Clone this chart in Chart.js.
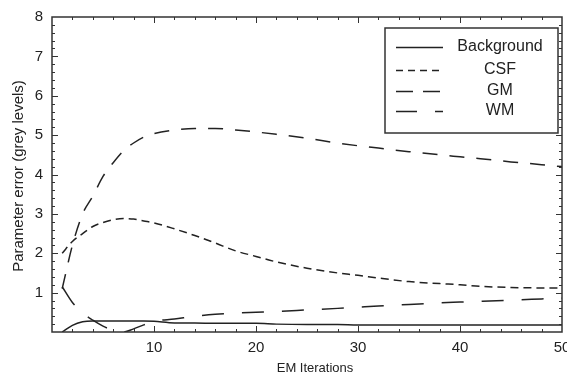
<!DOCTYPE html>
<html>
<head>
<meta charset="utf-8">
<script src="https://cdn.jsdelivr.net/npm/chart.js@4"></script>
<style>
  body { margin: 0; background: #fff; }
</style>
</head>
<body>
<canvas id="canvas" width="567" height="378"></canvas>
<script>
// EM iteration number (x) and parameter error of each class (grey levels)
const iterations = [1, 2, 3, 4, 5, 6, 7, 8, 9, 10, 12, 14, 16, 18, 20, 22, 25, 28, 30, 32, 35, 38, 40, 42, 45, 48, 50];
const background = [0, 0.17, 0.26, 0.28, 0.28, 0.28, 0.28, 0.28, 0.28, 0.27, 0.23, 0.23, 0.22, 0.22, 0.22, 0.2, 0.19, 0.19, 0.18, 0.18, 0.18, 0.18, 0.18, 0.18, 0.18, 0.18, 0.18];
const csf = [2.0, 2.3, 2.5, 2.68, 2.78, 2.85, 2.88, 2.87, 2.82, 2.77, 2.62, 2.45, 2.26, 2.06, 1.92, 1.78, 1.62, 1.5, 1.44, 1.37, 1.28, 1.23, 1.2, 1.16, 1.13, 1.12, 1.12];
const gm = [1.1, 2.2, 3.0, 3.45, 3.95, 4.3, 4.6, 4.8, 4.95, 5.04, 5.13, 5.17, 5.17, 5.13, 5.08, 5.02, 4.92, 4.8, 4.73, 4.67, 4.58, 4.5, 4.45, 4.4, 4.32, 4.25, 4.2];
const wm = [1.15, 0.75, 0.48, 0.3, 0.15, 0.04, 0.0, 0.08, 0.18, 0.27, 0.33, 0.4, 0.45, 0.48, 0.5, 0.52, 0.56, 0.6, 0.63, 0.66, 0.7, 0.74, 0.76, 0.78, 0.81, 0.84, 0.86];
const seriesNames = ['Background', 'CSF', 'GM', 'WM'];
const xTicks = [10, 20, 30, 40, 50];
const yTicks = [1, 2, 3, 4, 5, 6, 7, 8];

const FONT = '"Liberation Sans", Arial, sans-serif';
const INK = '#222';

function pts(values) {
  return iterations.map((x, i) => ({ x: x, y: values[i] }));
}

const lineDash = [[], [8, 5], [15, 12], [22, 18]];
const legendDash = [[], [7, 5], [17, 10], [21, 18, 8, 100]];

const datasets = [background, csf, gm, wm].map((vals, i) => ({
  label: seriesNames[i],
  data: pts(vals),
  borderColor: '#222',
  borderWidth: 1.5,
  borderDash: lineDash[i],
  pointRadius: 0,
  cubicInterpolationMode: 'monotone',
  fill: false
}));

// frame with inward ticks, boxed legend and axis titles (Mathematica style)
const framePlugin = {
  id: 'frame',
  afterDraw(chart) {
    const ctx = chart.ctx;
    const a = chart.chartArea;
    const xs = chart.scales.x, ys = chart.scales.y;
    ctx.save();
    ctx.strokeStyle = '#333';
    ctx.lineWidth = 1;
    ctx.beginPath();
    for (let v = 2; v < 50; v += 2) {
      const len = v % 10 === 0 ? 6 : 3;
      const px = Math.round(xs.getPixelForValue(v)) + 0.5;
      ctx.moveTo(px, a.bottom); ctx.lineTo(px, a.bottom - len);
      ctx.moveTo(px, a.top); ctx.lineTo(px, a.top + len);
    }
    for (let i = 1; i < 40; i++) {
      const len = i % 5 === 0 ? 6 : 3;
      const py = Math.round(ys.getPixelForValue(i / 5)) + 0.5;
      ctx.moveTo(a.left, py); ctx.lineTo(a.left + len, py);
      ctx.moveTo(a.right, py); ctx.lineTo(a.right - len, py);
    }
    ctx.stroke();
    ctx.lineWidth = 1.5;
    ctx.strokeRect(a.left, a.top, a.right - a.left, a.bottom - a.top);

    // legend box
    ctx.fillStyle = '#fff';
    ctx.fillRect(385, 28, 173, 105);
    ctx.strokeRect(385, 28, 173, 105);
    const rows = [47, 70, 91, 111];
    ctx.font = '16px ' + FONT;
    ctx.textAlign = 'center';
    ctx.textBaseline = 'middle';
    seriesNames.forEach((name, i) => {
      ctx.strokeStyle = '#222';
      ctx.lineWidth = 1.5;
      ctx.setLineDash(legendDash[i]);
      ctx.beginPath();
      ctx.moveTo(396, rows[i] + 0.5);
      ctx.lineTo(443, rows[i] + 0.5);
      ctx.stroke();
      ctx.setLineDash([]);
      ctx.fillStyle = INK;
      ctx.fillText(name, 500, rows[i]);
    });

    // axis titles
    ctx.font = '13px ' + FONT;
    ctx.fillText('EM Iterations', 315, 368);
    ctx.save();
    ctx.translate(19, 176);
    ctx.rotate(-Math.PI / 2);
    ctx.font = '15px ' + FONT;
    ctx.fillText('Parameter error (grey levels)', 0, 0);
    ctx.restore();
    ctx.restore();
  }
};

const config = {
  type: 'line',
  data: { datasets: datasets },
  options: {
    responsive: false,
    animation: false,
    layout: { padding: { top: 17, right: 5, left: 0, bottom: 0 } },
    plugins: { legend: { display: false }, tooltip: { enabled: false } },
    scales: {
      x: {
        type: 'linear',
        min: 0,
        max: 50,
        grid: { display: false, drawTicks: false },
        border: { display: false },
        afterBuildTicks: s => { s.ticks = xTicks.map(v => ({ value: v })); },
        afterFit: s => { s.height = 46; s.paddingLeft = 0; s.paddingRight = 0; },
        ticks: { color: INK, font: { family: FONT, size: 15 }, padding: 7, maxRotation: 0 }
      },
      y: {
        min: 0,
        max: 8,
        grid: { display: false, drawTicks: false },
        border: { display: false },
        afterBuildTicks: s => { s.ticks = yTicks.map(v => ({ value: v })); },
        afterFit: s => { s.width = 52; s.paddingTop = 0; s.paddingBottom = 0; },
        ticks: { color: INK, font: { family: FONT, size: 15 }, padding: 9 }
      }
    }
  },
  plugins: [framePlugin]
};

const chart = new Chart(document.getElementById('canvas'), config);
</script>
</body>
</html>
